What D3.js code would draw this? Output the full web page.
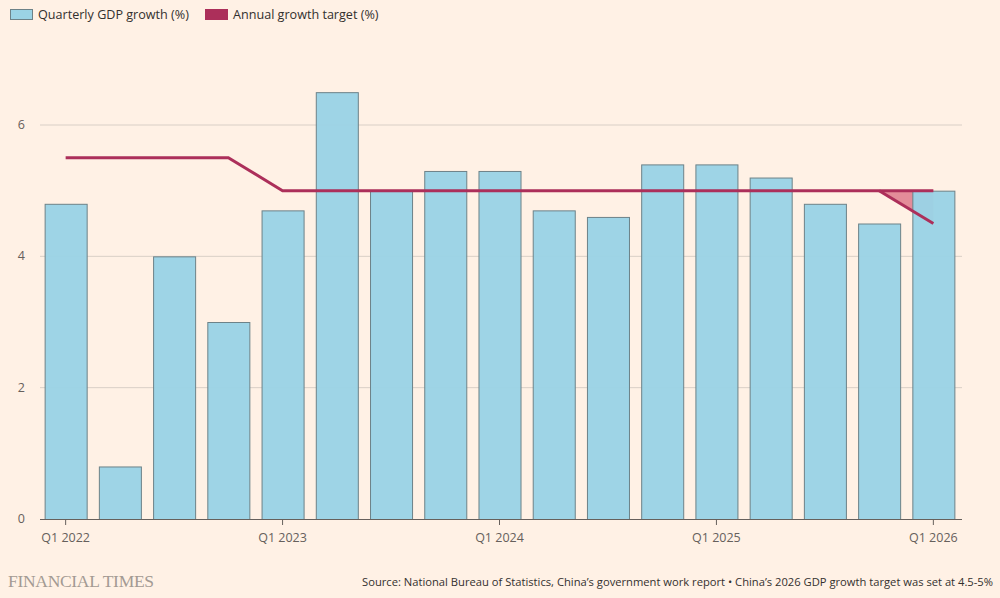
<!DOCTYPE html>
<html><head><meta charset="utf-8">
<script src="https://cdn.jsdelivr.net/npm/d3@7"></script>
<style>
html,body{margin:0;padding:0;background:#FFF1E5;}
svg{display:block;}
</style></head>
<body>
<svg id="c" width="1000" height="598"></svg>
<script>
const quarters = ["Q1 2022","Q2 2022","Q3 2022","Q4 2022","Q1 2023","Q2 2023","Q3 2023","Q4 2023","Q1 2024","Q2 2024","Q3 2024","Q4 2024","Q1 2025","Q2 2025","Q3 2025","Q4 2025","Q1 2026"];
const gdpGrowth = [4.8,0.8,4.0,3.0,4.7,6.5,5.0,5.3,5.3,4.7,4.6,5.4,5.4,5.2,4.8,4.5,5.0];
const targetHigh = [5.5,5.5,5.5,5.5,5,5,5,5,5,5,5,5,5,5,5,5,5];
const targetLow = [null,null,null,null,null,null,null,null,null,null,null,null,null,null,null,5,4.5];
const xTickLabels = ["Q1 2022","Q1 2023","Q1 2024","Q1 2025","Q1 2026"];
const yTicks = [0,2,4,6];

const font = "'Open Sans', sans-serif";
const svg = d3.select("#c");
const mLeft = 40, mRight = 962, mBottom = 519;

const x = d3.scaleBand().domain(quarters).range([mLeft+3, mRight-6]).paddingInner(0.225).paddingOuter(0.03);
const y = d3.scaleLinear().domain([0,6]).range([mBottom, 125]);
const cx = q => x(q) + x.bandwidth()/2;

// gridlines
const grid = svg.append("g");
yTicks.filter(t=>t>0).forEach(t=>{
  grid.append("line").attr("x1",mLeft).attr("x2",mRight).attr("y1",y(t)).attr("y2",y(t))
    .attr("stroke","#d9cfc6").attr("stroke-width",1);
});
// y labels
svg.append("g").selectAll("text").data(yTicks).join("text")
  .attr("x",25).attr("y",d=>y(d)+4).attr("text-anchor","end")
  .attr("font-family",font).attr("font-size",12.5).attr("fill","#66605c").text(d=>d);

// shaded target range
const rangeData = quarters.map((q,i)=>({q, hi:targetHigh[i], lo:targetLow[i]})).filter(d=>d.lo!==null);
svg.append("path").datum(rangeData)
  .attr("d", d3.area().x(d=>cx(d.q)).y0(d=>y(d.lo)).y1(d=>y(d.hi)))
  .attr("fill","#d9697f").attr("opacity",0.75);

// bars
svg.append("g").selectAll("rect").data(quarters).join("rect")
  .attr("x",q=>x(q)+0.5).attr("width",x.bandwidth())
  .attr("y",(q,i)=>y(gdpGrowth[i])+0.5).attr("height",(q,i)=>y(0)-y(gdpGrowth[i]))
  .attr("fill","#9bd3e5").attr("fill-opacity",0.97).attr("stroke","#6d8288").attr("stroke-width",1);

// x axis
svg.append("line").attr("x1",mLeft).attr("x2",mRight).attr("y1",mBottom+0.5).attr("y2",mBottom+0.5)
  .attr("stroke","#66605c").attr("stroke-width",1);
const xt = svg.append("g");
xTickLabels.forEach(q=>{
  xt.append("line").attr("x1",cx(q)).attr("x2",cx(q)).attr("y1",mBottom).attr("y2",mBottom+6)
    .attr("stroke","#66605c").attr("stroke-width",1);
  xt.append("text").attr("x",cx(q)).attr("y",mBottom+23).attr("text-anchor","middle")
    .attr("font-family",font).attr("font-size",12.5).attr("fill","#66605c").text(q);
});

// target lines
const lineColor = "#ac2f5a";
const hiData = quarters.map((q,i)=>({q,v:targetHigh[i]}));
svg.append("path").datum(hiData)
  .attr("d", d3.line().x(d=>cx(d.q)).y(d=>y(d.v)))
  .attr("fill","none").attr("stroke",lineColor).attr("stroke-width",3);
svg.append("path").datum(rangeData)
  .attr("d", d3.line().x(d=>cx(d.q)).y(d=>y(d.lo)))
  .attr("fill","none").attr("stroke",lineColor).attr("stroke-width",3);

// legend
const lg = svg.append("g");
lg.append("rect").attr("x",10.5).attr("y",9.5).attr("width",22).attr("height",10)
  .attr("fill","#9bd3e5").attr("stroke","#6d8288");
lg.append("text").attr("x",38).attr("y",19).attr("font-family",font).attr("font-size",12.6)
  .attr("fill","#33302e").text("Quarterly GDP growth (%)");
lg.append("rect").attr("x",205).attr("y",9).attr("width",23).attr("height",11).attr("fill",lineColor);
lg.append("text").attr("x",233).attr("y",19).attr("font-family",font).attr("font-size",12.6)
  .attr("fill","#33302e").text("Annual growth target (%)");

// footer
svg.append("text").attr("x",8).attr("y",587).attr("font-family","'Liberation Serif', 'DejaVu Serif', serif")
  .attr("font-size",17.5).attr("fill","#a39a93").attr("letter-spacing",-0.3).text("FINANCIAL TIMES");
svg.append("text").attr("x",993).attr("y",586).attr("text-anchor","end").attr("font-family",font)
  .attr("font-size",11.2).attr("fill","#33302e")
  .text("Source: National Bureau of Statistics, China\u2019s government work report \u2022 China\u2019s 2026 GDP growth target was set at 4.5-5%");
</script>
</body></html>
